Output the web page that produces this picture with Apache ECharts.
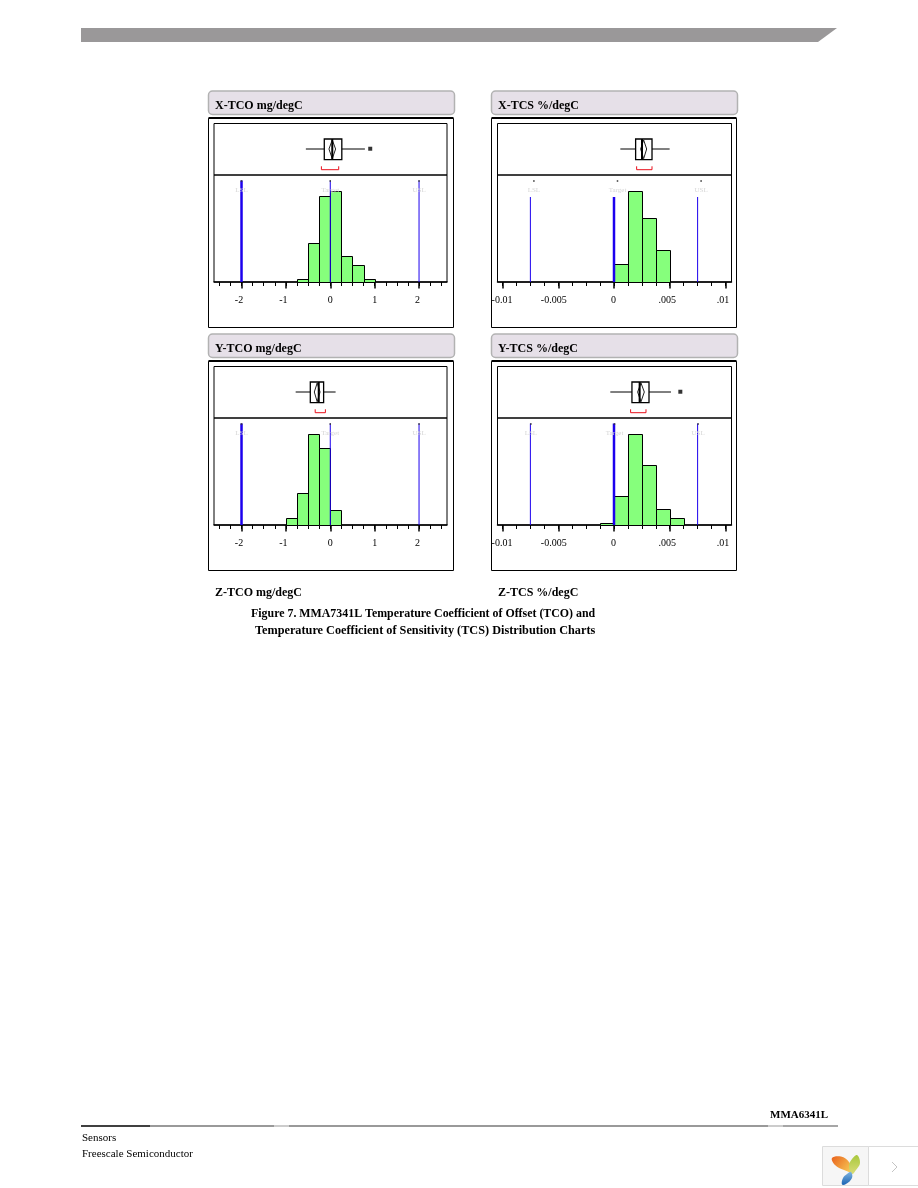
<!DOCTYPE html>
<html>
<head>
<meta charset="utf-8">
<title>Figure 7</title>
<script src="https://cdn.jsdelivr.net/npm/echarts@6/dist/echarts.min.js"></script>
<style>
  html, body { margin: 0; padding: 0; background: #fff; }
  #main { width: 918px; height: 1188px; }
</style>
</head>
<body>
<div id="main"></div>
<script>
// histogram bins (edges + bar heights)
const xTcoEdges = [-0.75, -0.5, -0.25, 0, 0.25, 0.5, 0.75, 1];
const xTcoCounts = [3, 39, 86, 91, 26, 17, 3];
const xTcsEdges = [0, 0.00125, 0.0025, 0.00375, 0.005];
const xTcsCounts = [18, 91, 64, 32];
const yTcoEdges = [-1, -0.75, -0.5, -0.25, 0, 0.25];
const yTcoCounts = [7, 32, 91, 77, 15];
const yTcsEdges = [-0.00125, 0, 0.00125, 0.0025, 0.00375, 0.005, 0.00625];
const yTcsCounts = [2, 29, 91, 60, 16, 7];

// box plots: whisker low, q1, median, q3, whisker high
const xTcoBox = [-0.55, -0.135, 0.045, 0.26, 0.78];
const xTcsBox = [0.00057, 0.00194, 0.00251, 0.00341, 0.00499];
const yTcoBox = [-0.78, -0.45, -0.26, -0.15, 0.12];
const yTcsBox = [-0.00033, 0.00161, 0.00230, 0.00314, 0.00511];
// mean diamond low/high
const xTcoMean = [-0.03, 0.12];
const xTcsMean = [0.00239, 0.00293];
const yTcoMean = [-0.36, -0.23];
const yTcsMean = [0.00212, 0.00272];
// red bracket low/high
const xTcoBracket = [-0.2, 0.19];
const xTcsBracket = [0.00203, 0.00341];
const yTcoBracket = [-0.34, -0.11];
const yTcsBracket = [0.00149, 0.00287];
// outliers
const xTcoOutliers = [0.9];
const xTcsOutliers = [];
const yTcoOutliers = [];
const yTcsOutliers = [0.00595];

// spec limits
const specNames = ["LSL", "Target", "USL"];
const tcoSpecs = [-2, 0, 2];
const tcsSpecs = [-0.0075, 0, 0.0075];

// axis ticks
const tcoTicks = [-2.5, -2.25, -2, -1.75, -1.5, -1.25, -1, -0.75, -0.5, -0.25, 0, 0.25, 0.5, 0.75, 1, 1.25, 1.5, 1.75, 2, 2.25, 2.5];
const tcoMajor = [-2, -1, 0, 1, 2];
const tcoLabels = ["-2", "-1", "0", "1", "2"];
const tcsTicks = [-0.01, -0.00875, -0.0075, -0.00625, -0.005, -0.00375, -0.0025, -0.00125, 0, 0.00125, 0.0025, 0.00375, 0.005, 0.00625, 0.0075, 0.00875, 0.01];
const tcsMajor = [-0.01, -0.005, 0, 0.005, 0.01];
const tcsLabels = ["-0.01", "-0.005", "0", ".005", ".01"];

const SERIF = '"Liberation Serif", serif';
const BLUE = "#1c00ee";
const GREEN = "#86ff7c";

// the labels sit a little left of their ticks in the original
const tcoLabelShift = [2.5, 2.5, 0, 0, 1.5];
const tcsLabelShift = [0.5, 4.5, 0.5, 2.5, 2.5];

const panels = [
  { title: "X-TCO mg/degC", col: 0, row: 0, edges: xTcoEdges, counts: xTcoCounts, box: xTcoBox, mean: xTcoMean, bracket: xTcoBracket, outliers: xTcoOutliers,
    specs: tcoSpecs, ticks: tcoTicks, major: tcoMajor, labels: tcoLabels, shift: tcoLabelShift, min: -2.62, max: 2.63, specWidth: [2.5, 1, 1], specTop: 101.5, dotShift: 0 },
  { title: "X-TCS %/degC", col: 1, row: 0, edges: xTcsEdges, counts: xTcsCounts, box: xTcsBox, mean: xTcsMean, bracket: xTcsBracket, outliers: xTcsOutliers,
    specs: tcsSpecs, ticks: tcsTicks, major: tcsMajor, labels: tcsLabels, shift: tcsLabelShift, min: -0.01045, max: 0.01054, specWidth: [1, 2.5, 1], specTop: 85, dotShift: 3.5 },
  { title: "Y-TCO mg/degC", col: 0, row: 1, edges: yTcoEdges, counts: yTcoCounts, box: yTcoBox, mean: yTcoMean, bracket: yTcoBracket, outliers: yTcoOutliers,
    specs: tcoSpecs, ticks: tcoTicks, major: tcoMajor, labels: tcoLabels, shift: tcoLabelShift, min: -2.62, max: 2.63, specWidth: [2.5, 1, 1], specTop: 101.5, dotShift: 0 },
  { title: "Y-TCS %/degC", col: 1, row: 1, edges: yTcsEdges, counts: yTcsCounts, box: yTcsBox, mean: yTcsMean, bracket: yTcsBracket, outliers: yTcsOutliers,
    specs: tcsSpecs, ticks: tcsTicks, major: tcsMajor, labels: tcsLabels, shift: tcsLabelShift, min: -0.01045, max: 0.01054, specWidth: [1, 2.5, 1], specTop: 101.5, dotShift: 0.5 },
];

const colX = [
  { outer: 208.5, header: 208.5, headerW: 246, frame: 214, frameW: 233, text: 215 },
  { outer: 491.5, header: 491.5, headerW: 246, frame: 497.5, frameW: 234, text: 498 },
];
const rowY = [
  { header: 91, outer: 118, outerH: 209.5, top: 123.5, mid: 175, base: 282, text: 105.5 },
  { header: 334, outer: 361, outerH: 209.5, top: 366.5, mid: 418, base: 525, text: 348.5 },
];

function px(v) {
  return Math.round(v) + 0.5;
}

function renderBin(params, api) {
  const a = api.coord([api.value(0), api.value(2)]);
  const b = api.coord([api.value(1), 0]);
  const x = px(a[0]);
  const y = px(a[1]);
  return {
    type: "rect",
    shape: { x: x, y: y, width: px(b[0]) - x, height: px(b[1]) - y },
    style: { fill: GREEN, stroke: "#000", lineWidth: 1 },
  };
}

function renderBox(params, api) {
  const sys = params.coordSys;
  const X = (i) => api.coord([api.value(i), 0])[0];
  const boxTop = sys.y + 15.5;
  const boxBottom = sys.y + 36.2;
  const mid = sys.y + 25.5;
  const br1 = sys.y + 42.8;
  const br2 = sys.y + 46.2;
  const line = (x1, y1, x2, y2, w, c) => ({
    type: "line",
    shape: { x1: x1, y1: y1, x2: x2, y2: y2 },
    style: { stroke: c || "#000", lineWidth: w, fill: null },
  });
  return {
    type: "group",
    children: [
      line(X(0), mid, X(4), mid, 1),
      {
        type: "rect",
        shape: { x: X(1), y: boxTop, width: X(3) - X(1), height: boxBottom - boxTop },
        style: { fill: "#fff", stroke: "#000", lineWidth: 1.3 },
      },
      {
        type: "polygon",
        shape: { points: [[X(5), mid], [(X(5) + X(6)) / 2, boxTop + 1], [X(6), mid], [(X(5) + X(6)) / 2, boxBottom - 1]] },
        style: { fill: "none", stroke: "#222", lineWidth: 1 },
      },
      line(X(2), boxTop, X(2), boxBottom, 2),
      {
        type: "polyline",
        shape: { points: [[X(7), br1], [X(7), br2], [X(8), br2], [X(8), br1]] },
        style: { fill: null, stroke: "#e8101c", lineWidth: 1 },
      },
    ],
  };
}

function makeRenderSpec(panel) {
  return function (params, api) {
    const i = params.dataIndex;
    const bottom = api.coord([api.value(0), 0]);
    const top = api.coord([api.value(0), panel.specTop]);
    const dotY = params.coordSys.y + 6;
    const labelY = params.coordSys.y + 15.5;
    return {
      type: "group",
      children: [
        {
          type: "line",
          shape: { x1: bottom[0], y1: bottom[1], x2: top[0], y2: top[1] },
          style: { stroke: BLUE, lineWidth: panel.specWidth[i] },
        },
        {
          type: "rect",
          shape: { x: bottom[0] + panel.dotShift - 0.75, y: dotY - 0.75, width: 1.5, height: 1.5 },
          style: { fill: "#333" },
        },
        {
          type: "text",
          style: {
            x: bottom[0] + panel.dotShift, y: labelY, text: specNames[i],
            align: "center", verticalAlign: "middle",
            font: "7px " + SERIF, fill: "#d6d6d6",
          },
        },
      ],
    };
  };
}

const grid = [];
const xAxis = [];
const yAxis = [];
const series = [];
const graphic = [];

function addGrid(rect, x, y) {
  const idx = grid.length;
  grid.push(Object.assign({ containLabel: false }, rect));
  xAxis.push(Object.assign({ gridIndex: idx, type: "value" }, x));
  yAxis.push(Object.assign({ gridIndex: idx, type: "value", show: false }, y));
  return idx;
}

panels.forEach(function (p) {
  const c = colX[p.col];
  const r = rowY[p.row];

  // frame, header
  graphic.push({
    type: "rect", z: 0,
    shape: { x: c.header, y: r.header, width: c.headerW, height: 23.5, r: 4 },
    style: { fill: "#e6e0e8", stroke: "#b2b2b2", lineWidth: 1.5 },
  });
  graphic.push({
    type: "text", z: 5,
    style: { x: c.text, y: r.text, text: p.title, font: "bold 12px " + SERIF, fill: "#000", verticalAlign: "middle" },
  });
  graphic.push({
    type: "rect", z: 0,
    shape: { x: c.outer, y: r.outer + 0.5, width: 245, height: r.outerH - 0.5 },
    style: { fill: "none", stroke: "#000", lineWidth: 1 },
  });
  graphic.push({
    type: "line", z: 0,
    shape: { x1: c.outer, y1: r.outer, x2: c.outer + 245, y2: r.outer },
    style: { stroke: "#000", lineWidth: 2 },
  });

  const hiddenX = { min: p.min, max: p.max, show: false };

  // box plot part
  const boxGrid = addGrid(
    { left: c.frame, top: r.top, width: c.frameW, height: r.mid - r.top, show: true, borderColor: "#000", borderWidth: 1, backgroundColor: "transparent" },
    hiddenX,
    { min: 0, max: 1 }
  );
  series.push({
    type: "custom", xAxisIndex: boxGrid, yAxisIndex: boxGrid, silent: true,
    renderItem: renderBox, encode: { x: [0, 1, 2, 3, 4], y: 9 },
    data: [p.box.concat(p.mean, p.bracket, [0])],
  });
  series.push({
    type: "scatter", xAxisIndex: boxGrid, yAxisIndex: boxGrid, silent: true,
    symbol: "rect", symbolSize: 4, itemStyle: { color: "#000" },
    data: p.outliers.map((v) => [v, 0.51]),
  });

  // histogram part
  const histGrid = addGrid(
    { left: c.frame, top: r.mid, width: c.frameW, height: r.base - r.mid, show: true, borderColor: "#000", borderWidth: 1, backgroundColor: "transparent" },
    {
      min: p.min, max: p.max,
      splitLine: { show: false },
      axisLine: { show: true, lineStyle: { color: "#000", width: 1.5 } },
      axisTick: { show: true, length: 4, customValues: p.ticks, lineStyle: { color: "#000" } },
      axisLabel: { show: false },
    },
    { min: 0, max: r.base - r.mid }
  );
  series.push({
    type: "custom", xAxisIndex: histGrid, yAxisIndex: histGrid, silent: true, z: 2,
    renderItem: renderBin, encode: { x: [0, 1], y: 2 },
    data: p.counts.map((v, i) => [p.edges[i], p.edges[i + 1], v]),
  });
  series.push({
    type: "custom", xAxisIndex: histGrid, yAxisIndex: histGrid, silent: true, z: 3,
    renderItem: makeRenderSpec(p), encode: { x: 0, y: 1 },
    data: p.specs.map((v) => [v, 0]),
  });

  // longer ticks and the labels
  const rich = {};
  p.shift.forEach(function (s, i) {
    rich["s" + i] = { fontFamily: SERIF, fontSize: 10, color: "#000", padding: [0, s * 2, 0, 0] };
  });
  addGrid(
    { left: c.frame, top: r.mid, width: c.frameW, height: r.base - r.mid },
    {
      min: p.min, max: p.max,
      splitLine: { show: false },
      axisLine: { show: false },
      axisTick: { show: true, length: 6.5, customValues: p.major, lineStyle: { color: "#000", width: 1.5 } },
      axisLabel: {
        show: true, margin: 13, customValues: p.major,
        fontFamily: SERIF, fontSize: 10, color: "#000", rich: rich,
        formatter: function (v) {
          const i = p.major.indexOf(v);
          return "{s" + i + "|" + p.labels[i] + "}";
        },
      },
    },
    { min: 0, max: 1 }
  );
});

// page furniture
graphic.push({
  type: "polygon", z: 0,
  shape: { points: [[81, 28], [837, 28], [818, 42], [81, 42]] },
  style: { fill: "#9a9899" },
});

const pageTexts = [
  ["Z-TCO mg/degC", 215, 593, "bold 12px"],
  ["Z-TCS %/degC", 498, 593, "bold 12px"],
  ["Figure 7. MMA7341L Temperature Coefficient of Offset (TCO) and", 251, 614, "bold 11.9px"],
  ["Temperature Coefficient of Sensitivity (TCS) Distribution Charts", 255, 631, "bold 12.25px"],
  ["MMA6341L", 770, 1115, "bold 11px"],
  ["Sensors", 82, 1138, "11px"],
  ["Freescale Semiconductor", 82, 1154, "11px"],
];
pageTexts.forEach(function (t) {
  graphic.push({
    type: "text", z: 5,
    style: { x: t[1], y: t[2], text: t[0], font: t[3] + " " + SERIF, fill: "#000", verticalAlign: "middle" },
  });
});

const footerRule = [[81, 150, "#000"], [150, 274, "#777"], [274, 289, "#bbb"], [289, 768, "#777"], [768, 783, "#bbb"], [783, 838, "#888"]];
footerRule.forEach(function (s) {
  graphic.push({
    type: "line", z: 1,
    shape: { x1: s[0], y1: 1126, x2: s[1], y2: 1126 },
    style: { stroke: s[2], lineWidth: 1.5 },
  });
});

// corner badge
graphic.push({
  type: "rect", z: 1,
  shape: { x: 822.5, y: 1146.5, width: 96, height: 39 },
  style: { fill: "#f6f6f6", stroke: "#dcdcdc", lineWidth: 1 },
});
graphic.push({
  type: "rect", z: 1,
  shape: { x: 868.5, y: 1146.5, width: 50, height: 39 },
  style: { fill: "#fff", stroke: "#dcdcdc", lineWidth: 1 },
});
graphic.push({
  type: "polyline", z: 2,
  shape: { points: [[892, 1162], [897, 1167], [892, 1172]] },
  style: { fill: null, stroke: "#c4c4c4", lineWidth: 1 },
});
graphic.push({
  type: "polygon", z: 2,
  shape: { points: [[832, 1158], [841, 1156.5], [849, 1162], [852, 1172], [844, 1170], [835, 1165]], smooth: 0.4 },
  style: { fill: new echarts.graphic.LinearGradient(0, 0, 1, 1, [{ offset: 0, color: "#e9611c" }, { offset: 1, color: "#f8d35c" }]) },
});
graphic.push({
  type: "polygon", z: 2,
  shape: { points: [[857, 1155], [860, 1163], [856, 1170], [852, 1174], [849, 1166], [852, 1159]], smooth: 0.4 },
  style: { fill: new echarts.graphic.LinearGradient(0, 0, 0, 1, [{ offset: 0, color: "#a9c83c" }, { offset: 1, color: "#d8dc78" }]) },
});
graphic.push({
  type: "polygon", z: 2,
  shape: { points: [[851, 1172], [852, 1178], [846, 1184], [842, 1184.5], [843, 1178], [847, 1174]], smooth: 0.4 },
  style: { fill: new echarts.graphic.LinearGradient(0, 0, 0, 1, [{ offset: 0, color: "#7fb4e0" }, { offset: 1, color: "#1a64b4" }]) },
});

const chart = echarts.init(document.getElementById("main"), null, { renderer: "canvas" });
chart.setOption({
  animation: false,
  backgroundColor: "#fff",
  tooltip: { show: false },
  grid: grid,
  xAxis: xAxis,
  yAxis: yAxis,
  series: series,
  graphic: { elements: graphic },
});
</script>
</body>
</html>
